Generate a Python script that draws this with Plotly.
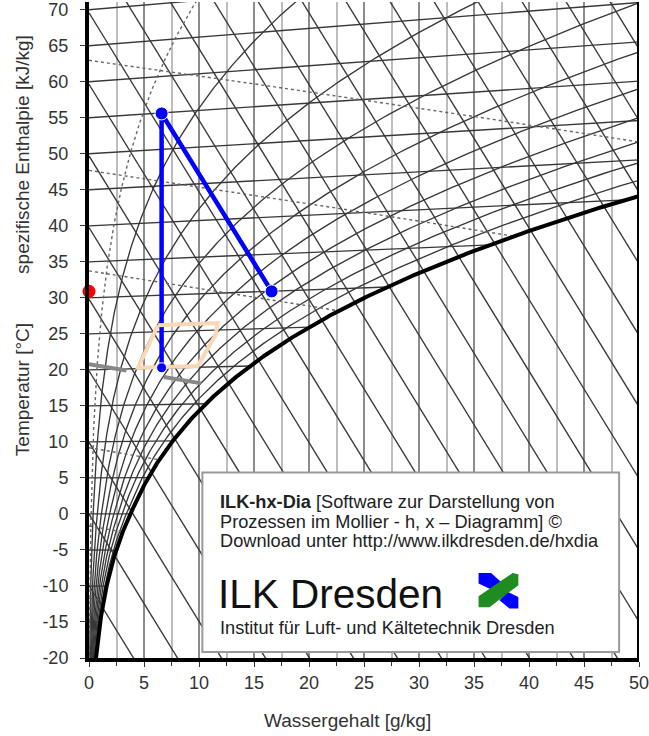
import numpy as np
import plotly.graph_objects as go

# ---------------- chart parameters ----------------
P_AIR = 101.325                      # kPa
ISOTHERMS = list(range(-20, 75, 5))  # degC
ISENTHALPS = list(range(-20, 200, 10))  # kJ/kg
RH_SOLID = [0.1, 0.2, 0.3, 0.4, 0.5, 0.6, 0.7, 0.8, 0.9]
RH_DOTTED = [0.05]
DENSITIES = [1.05, 1.10, 1.15, 1.25, 1.30, 1.35]   # kg/m3 (dotted)

# process / state points
blue_x = [6.6, 6.6, 16.6]
blue_y = [20.3, 55.6, 30.9]
red_x = [0.0]
red_y = [30.9]
comfort_x = [6.26, 11.68, 11.53, 9.88, 4.46, 6.26]
comfort_y = [26.2, 26.5, 24.9, 20.55, 20.3, 26.2]
gray_x = [0.0, 10.3]
gray_y = [20.8, 18.1]

X_TICKS = list(range(0, 55, 5))
Y_TICKS = list(range(-20, 75, 5))
X_LABELS = [str(v) for v in X_TICKS]
Y_LABELS = [str(v) for v in Y_TICKS]

# ---------------- psychrometrics ----------------
def p_sat(t):
    t = np.asarray(t, float)
    return np.where(t >= 0, 0.6112 * np.exp(17.62 * t / (243.12 + t)),
                    0.6112 * np.exp(22.46 * t / (272.62 + t)))

def x_of(t, phi):
    p = phi * p_sat(t)
    return 622.0 * p / (P_AIR - p)

def y_of(t, x):
    return t + 0.00186 * t * x / 1.006

fig = go.Figure()
LC = "#383838"
LW = 1.35

# isotherms
for t in ISOTHERMS:
    xe = min(50.0, float(x_of(t, 1.0)))
    xs = np.array([0.0, xe])
    fig.add_trace(go.Scatter(x=xs, y=y_of(t, xs), mode="lines",
                             line=dict(color=LC, width=LW), hoverinfo="skip", showlegend=False))

# isenthalps
xg = np.array([0.0, 50.0])
for h in ISENTHALPS:
    fig.add_trace(go.Scatter(x=xg, y=(h - 2.501 * xg) / 1.006, mode="lines",
                             line=dict(color=LC, width=LW), hoverinfo="skip", showlegend=False))

# relative humidity
tt = np.arange(-20, 80.01, 0.25)
for phi in RH_SOLID:
    xx = x_of(tt, phi)
    fig.add_trace(go.Scatter(x=xx, y=y_of(tt, xx), mode="lines",
                             line=dict(color=LC, width=LW), hoverinfo="skip", showlegend=False))
for phi in RH_DOTTED:
    xx = x_of(tt, phi)
    fig.add_trace(go.Scatter(x=xx, y=y_of(tt, xx), mode="lines",
                             line=dict(color="#666666", width=1.4, dash="dot"), hoverinfo="skip", showlegend=False))

# density lines
xd = np.linspace(0, 50, 201)
for rho in DENSITIES:
    T0 = P_AIR * 1000 / (287.1 * rho)
    td = T0 / (1 + 0.98e-3 * xd) - 273.15
    ok = xd <= x_of(td, 1.0)
    fig.add_trace(go.Scatter(x=xd[ok], y=y_of(td[ok], xd[ok]), mode="lines",
                             line=dict(color="#666666", width=1.4, dash="dot"), hoverinfo="skip", showlegend=False))

# saturation
ts = np.arange(-20, 42, 0.1)
xs_ = x_of(ts, 1.0)
fig.add_trace(go.Scatter(x=xs_, y=y_of(ts, xs_), mode="lines",
                         line=dict(color="black", width=4), hoverinfo="skip", showlegend=False))

# process
fig.add_trace(go.Scatter(x=blue_x, y=blue_y, mode="lines",
                         line=dict(color="#0000ff", width=4.5), showlegend=False))
fig.add_trace(go.Scatter(x=comfort_x, y=comfort_y, mode="lines",
                         line=dict(color="#f9d8b6", width=4), showlegend=False))
fig.add_trace(go.Scatter(x=gray_x, y=gray_y, mode="lines",
                         line=dict(color="#888888", width=4, dash="38px,38px"), showlegend=False))
fig.add_trace(go.Scatter(x=blue_x, y=blue_y, mode="markers",
                         marker=dict(color="#0000ff", size=[10, 13, 13], opacity=1), showlegend=False))
fig.add_trace(go.Scatter(x=red_x, y=red_y, mode="markers", cliponaxis=False,
                         marker=dict(color="#ff0000", size=13, opacity=1), showlegend=False))

# ---------------- layout ----------------
W, H = 649, 736
ML, MR, MT, MB = 89, 7, 0, 78
PW, PH = W - ML - MR, H - MT - MB
YTOP = -20 + PH / 7.225

def px(xp):
    return (xp - ML) / PW

def py(yp):
    return (H - MB - yp) / PH

FONT = "Liberation Sans, Arial, sans-serif"
shapes = [
    dict(type="line", xref="x", yref="y", x0=50, x1=50, y0=-20, y1=YTOP,
         line=dict(color="black", width=4)),
    dict(type="rect", xref="paper", yref="paper", x0=px(203), x1=px(622), y0=py(652), y1=py(472),
         fillcolor="white", line=dict(color="#9a9a9a", width=2)),
]

def path(pts):
    return "M " + " L ".join(f"{px(a):.5f},{py(b):.5f}" for a, b in pts) + " Z"

shapes += [
    dict(type="path", xref="paper", yref="paper", fillcolor="#0000ff", line=dict(width=0),
         path=path([(480.7, 572.7), (493.3, 572.7), (503.3, 581.7), (495, 590), (480.7, 583.3)])),
    dict(type="path", xref="paper", yref="paper", fillcolor="#0000ff", line=dict(width=0),
         path=path([(510, 591.7), (520.7, 596.7), (520.7, 608.3), (511.7, 608.3), (501.7, 600)])),
    dict(type="path", xref="paper", yref="paper", fillcolor="#1e8c1e", line=dict(width=0),
         path=path([(480.7, 607), (480.7, 596), (515, 572.7), (520.7, 574), (520.7, 585), (491.7, 607)])),
]

def ann(text, x, y, size, **kw):
    d = dict(text=text, x=px(x), y=py(y), xref="paper", yref="paper", showarrow=False,
             font=dict(family=FONT, size=size, color=kw.pop("color", "#222")), xanchor=kw.pop("xanchor", "left"),
             yanchor="middle")
    d.update(kw)
    return d

annotations = [
    ann("<b>ILK-hx-Dia</b> [Software zur Darstellung von", 219, 502, 18.2),
    ann("Prozessen im Mollier - h, x – Diagramm] ©", 219, 521.5, 18.2),
    ann("Download unter http://www.ilkdresden.de/hxdia", 219, 541, 18.2),
    ann("ILK Dresden", 217, 594, 40.5, color="#111"),
    ann("Institut für Luft- und Kältetechnik Dresden", 219, 628, 18.2),
    ann("Wassergehalt [g/kg]", 349, 721, 19, xanchor="center", color="#333"),
    ann("spezifische Enthalpie [kJ/kg]", 22, 153, 19, xanchor="center", textangle=-90, color="#333"),
    ann("Temperatur [°C]", 22, 389, 19, xanchor="center", textangle=-90, color="#333"),
]

fig.update_layout(
    width=W, height=H, margin=dict(l=ML, r=MR, t=MT, b=MB),
    paper_bgcolor="white", plot_bgcolor="white",
    font=dict(family=FONT, color="#333"),
    shapes=shapes, annotations=annotations,
    xaxis=dict(range=[0, 50], tickvals=X_TICKS, ticktext=X_LABELS, ticks="outside", ticklen=5, tickcolor="#333",
               showgrid=True, gridcolor="#8c8c8c", gridwidth=1.5, zeroline=False,
               showline=True, linewidth=4, linecolor="black",
               minor=dict(dtick=2.5, showgrid=True, gridcolor="#bdbdbd", gridwidth=1.5,
                          ticks="outside", ticklen=4, tickcolor="#333"),
               tickfont=dict(size=18, color="#333"), ticklabelstandoff=0, ticklabeloverflow="allow"),
    yaxis=dict(range=[-20, YTOP], tickvals=Y_TICKS, ticktext=Y_LABELS, ticks="outside", ticklen=5, tickcolor="#333",
               showgrid=False, zeroline=False, showline=True, linewidth=4, linecolor="black",
               tickfont=dict(size=18, color="#333"), ticklabelstandoff=8, ticklabeloverflow="allow"),
)

fig.write_html("out.html")
